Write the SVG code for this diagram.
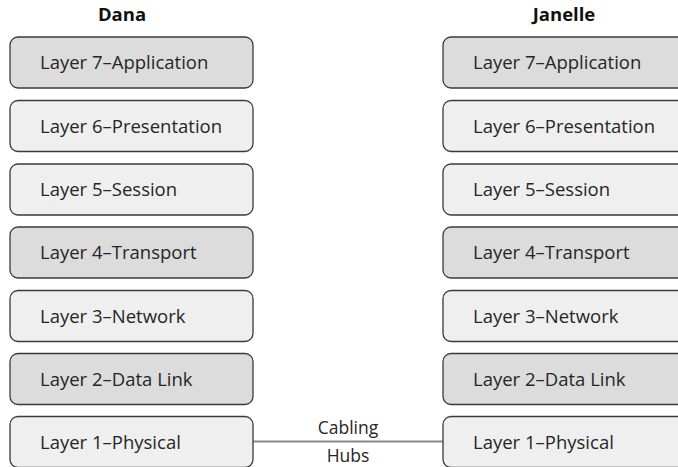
<svg xmlns="http://www.w3.org/2000/svg" width="678" height="467" viewBox="0 0 678 467">
<style>
.box{stroke:#3a3a3a;stroke-width:1.3}
.dk{fill:#dcdcdc}
.lt{fill:#efefef}
.t{font-family:"Open Sans",Lato,"Liberation Sans",sans-serif;font-size:18.5px;fill:#262626}
.h{font-family:"Open Sans",Lato,"Liberation Sans",sans-serif;font-size:18.5px;font-weight:bold;fill:#111;text-anchor:middle}
.c{font-family:"Open Sans",Lato,"Liberation Sans",sans-serif;font-size:17.5px;fill:#262626;text-anchor:middle}
</style>
<rect width="678" height="467" fill="#fff"/>
<text class="h" x="122" y="21">Dana</text>
<text class="h" x="564" y="21">Janelle</text>
<g id="connectors">
<line x1="253" y1="441.5" x2="443" y2="441.5" stroke="#8a8a8a" stroke-width="2"/>
<text class="c" x="348" y="434">Cabling</text>
<text class="c" x="348" y="462">Hubs</text>
</g>
<g id="dana7"><rect class="box dk" x="10" y="37" width="243" height="51" rx="8"/><text class="t" x="40" y="69">Layer 7–Application</text></g>
<g id="dana6"><rect class="box lt" x="10" y="100.5" width="243" height="51" rx="8"/><text class="t" x="40" y="132.5">Layer 6–Presentation</text></g>
<g id="dana5"><rect class="box lt" x="10" y="164" width="243" height="51" rx="8"/><text class="t" x="40" y="196">Layer 5–Session</text></g>
<g id="dana4"><rect class="box dk" x="10" y="227" width="243" height="51" rx="8"/><text class="t" x="40" y="259">Layer 4–Transport</text></g>
<g id="dana3"><rect class="box lt" x="10" y="290.5" width="243" height="51" rx="8"/><text class="t" x="40" y="322.5">Layer 3–Network</text></g>
<g id="dana2"><rect class="box dk" x="10" y="353.5" width="243" height="51" rx="8"/><text class="t" x="40" y="385.5">Layer 2–Data Link</text></g>
<g id="dana1"><rect class="box lt" x="10" y="416.5" width="243" height="51" rx="8"/><text class="t" x="40" y="448.5">Layer 1–Physical</text></g>
<g id="janelle7"><rect class="box dk" x="443" y="37" width="243" height="51" rx="8"/><text class="t" x="473" y="69">Layer 7–Application</text></g>
<g id="janelle6"><rect class="box lt" x="443" y="100.5" width="243" height="51" rx="8"/><text class="t" x="473" y="132.5">Layer 6–Presentation</text></g>
<g id="janelle5"><rect class="box lt" x="443" y="164" width="243" height="51" rx="8"/><text class="t" x="473" y="196">Layer 5–Session</text></g>
<g id="janelle4"><rect class="box dk" x="443" y="227" width="243" height="51" rx="8"/><text class="t" x="473" y="259">Layer 4–Transport</text></g>
<g id="janelle3"><rect class="box lt" x="443" y="290.5" width="243" height="51" rx="8"/><text class="t" x="473" y="322.5">Layer 3–Network</text></g>
<g id="janelle2"><rect class="box dk" x="443" y="353.5" width="243" height="51" rx="8"/><text class="t" x="473" y="385.5">Layer 2–Data Link</text></g>
<g id="janelle1"><rect class="box lt" x="443" y="416.5" width="243" height="51" rx="8"/><text class="t" x="473" y="448.5">Layer 1–Physical</text></g>
</svg>
